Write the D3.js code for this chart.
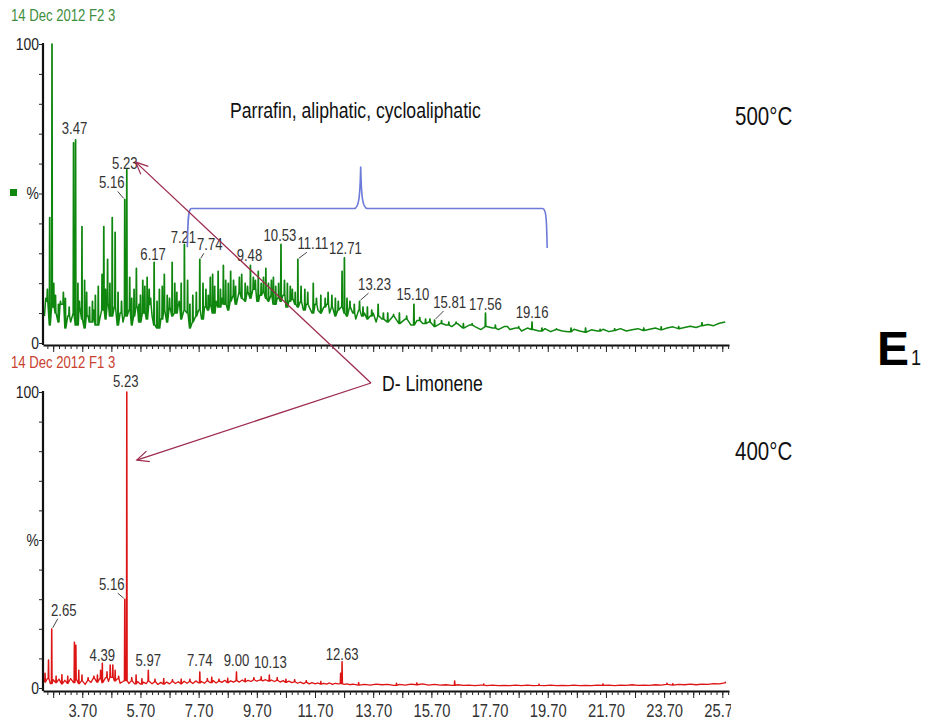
<!DOCTYPE html>
<html><head><meta charset="utf-8">
<script src="https://cdn.jsdelivr.net/npm/d3@7"></script>
<style>
body{margin:0;background:#fff}
svg{display:block}
text{font-family:"Liberation Sans",Arial,sans-serif}
</style>
</head><body><svg id="c" width="941" height="720"></svg>
<script>
// ---------- DATA ----------
const timeTickLabels = ["3.70","5.70","7.70","9.70","11.70","13.70","15.70","17.70","19.70","21.70","23.70","25.70"];
const yTickValues = [100, 50, 0];
const yTickTexts = ["100", "%", "0"];

// 500°C run (F2): peaks [retention time (min), %]
const topPeaks = [
 [2.45,15],[2.50,18],[2.58,42],[2.66,100],[2.72,20],[2.78,16],[2.88,13],[2.95,14],[3.05,17],[3.12,15],
 [3.25,12],[3.40,67],[3.47,68],[3.55,20],[3.60,14],[3.69,39],[3.78,21],[3.85,17],[3.95,12],[4.05,14],
 [4.15,16],[4.25,19],[4.38,23],[4.44,39],[4.50,18],[4.57,28],[4.65,20],[4.73,42],[4.83,37],[4.93,17],
 [5.05,14],[5.16,48],[5.23,58],[5.33,22],[5.40,15],[5.48,18],[5.56,25],[5.65,13],[5.70,16],[5.78,21],
 [5.85,19],[5.93,22],[6.00,18],[6.05,15],[6.17,27],[6.27,14],[6.35,18],[6.45,19],[6.52,23],[6.62,16],
 [6.70,15],[6.79,27],[6.88,20],[6.95,17],[7.03,14],[7.10,20],[7.21,33],[7.32,21],[7.40,13],[7.50,16],
 [7.62,17],[7.74,28],[7.85,20],[7.95,18],[8.03,16],[8.10,22],[8.18,23],[8.25,19],[8.37,24],[8.45,18],
 [8.55,26],[8.63,21],[8.72,20],[8.80,24],[8.90,21],[8.97,19],[9.10,22],[9.18,23],[9.30,20],[9.38,19],
 [9.48,26],[9.58,22],[9.65,21],[9.75,24],[9.85,20],[9.93,22],[10.01,25],[10.10,20],[10.20,21],[10.27,22],
 [10.35,19],[10.45,20],[10.53,33],[10.65,21],[10.75,20],[10.85,19],[10.92,18],[11.02,17],[11.11,28],[11.22,19],
 [11.35,18],[11.45,17],[11.64,20],[11.75,15],[11.90,16],[12.05,15],[12.15,17],[12.28,16],[12.40,15],[12.50,14],
 [12.63,24],[12.71,28.5],[12.80,15],[12.90,14],[13.05,13],[13.23,14],[13.35,12],[13.50,12],[13.65,11],[13.87,13],
 [14.05,10],[14.20,10],[14.40,9.5],[14.60,10],[14.85,9],[15.10,13],[15.30,8.5],[15.50,8],[15.65,8],[15.81,7.7],
 [16.05,7.5],[16.30,7],[16.55,7],[16.80,6.5],[17.10,6.5],[17.56,10],[17.90,6],[18.30,5.5],[18.70,5.5],[19.16,7],
 [19.50,5],[20.00,4.8],[20.50,5],[21.00,5],[21.50,4.6],[22.00,4.8],[23.00,5],[23.60,5.4],[24.20,5.5],[25.00,6.8]
];
// baseline / noise of the 500°C trace, every 0.1 min from 2.4 min ...
const topBaseA = [9,14,6,12,10,7,13,5,9,7, 10,6,12,8,5,9,7,11,6,8, 11,8,13,9,12,6,10,7,9,11,
 6,9,12,7,10,8,13,9,6,5, 8,11,7,12,9,10,13,8,11,10, 5,7,9,11,8,12,11,13,10,14,
 12,15,13,11,14,16,13,17,15,14, 17,15,18,14,16,17,15,14,16,13, 15,14,16,12,14,15,13,12,14,11,
 13,12,10,13,11,10,12,13,10,12, 9,11,12,10,9,12,10,8,11,9, 10,8,9,10,7,9];
// ... and every 0.2 min from 14.0 min
const topBaseB = [8,7,9,6.5,8,6,7.5,6.5,7,5.5, 6.5,6,5.5,6.5,5,6,5.5,4.5,5.5,5, 4.5,5.5,4.5,5,4,5,4.5,4,4.8,3.8,
 4.5,4,3.8,4.6,4,3.6,4.4,4,4.6,3.8, 4.2,4.8,4,4.4,4.8,4.2,4.6,5,4.4,5, 5.4,4.8,5.2,5.6,5.2,5.8,6.2,5.8,6.6,7];

// 400°C run (F1)
const bottomPeaks = [
 [2.42,5],[2.54,9.5],[2.65,20],[2.80,4],[3.00,4.5],[3.20,4],[3.43,15.5],[3.48,14.5],[3.58,6],[3.69,4.4],
 [3.90,3.5],[4.10,4],[4.22,4.4],[4.33,6],[4.39,8.4],[4.55,5.5],[4.66,7.8],[4.75,7.8],[4.83,6],[4.95,4],
 [5.16,30],[5.23,100],[5.40,3.5],[5.55,4.4],[5.75,3.2],[5.97,6],[6.20,3],[6.50,3.2],[6.80,2.8],[7.10,3],
 [7.40,3],[7.74,5.4],[8.00,3.2],[8.15,3.7],[8.40,3],[8.70,3.3],[9.00,5.4],[9.30,3.2],[9.60,3.5],[9.85,3.8],
 [10.13,4.4],[10.40,3.5],[10.70,3],[11.00,2.8],[11.40,2.5],[11.90,2.2],[12.58,5],[12.63,8.9],[13.20,1.8],[14.50,1.6],
 [15.20,1.7],[16.50,2.4],[17.50,1.4],[19.40,1.3],[21.60,1.4],[23.80,1.6],[24.00,1.5],[25.80,2.0]
];
const bottomBaseA = [2,3.2,1.5,2.8,1.8,3,1.4,2.6,1.6,3.2, 1.8,2.9,1.5,2.4,1.2,2.6,1.9,3.4,2,3.2, 1.8,3.5,2.2,3.6,2.4,3.1,
 1.6,2.2,2.5,1.5,2.4,1.4,2.2,1.3,2.0,1.5, 2.3,1.4,2.1,1.2,1.9,1.3,2.0,1.4,2.2,1.5,
 2.1,1.4,2.3,1.6,2.2,1.5,2.4,1.7,2.2,1.6, 2.4,1.8,2.5,1.7,2.3,1.9,2.6,1.8,2.4,2.0,
 2.5,2.0,2.7,2.1,2.6,2.2,2.8,2.3,2.7,2.4, 2.8,2.3,2.7,2.2,2.6,2.0,2.5,1.9,2.3,1.8,
 2.1,1.6,2.0,1.5,1.9,1.4,1.8,1.4,1.7,1.3, 1.6,1.3,1.7,1.2,1.6,1.4,1.5,1.2,1.4,1.1];
const bottomBaseB = [1.3,1.0,1.2,1.0,1.3,1.1,1.2,0.9,1.2,1.0, 1.3,1.1,1.4,1.0,1.2,1.0,1.1,0.9,1.1,0.9,
 1.0,0.8,1.0,0.8,1.0,0.8,0.9,0.8,1.0,0.8, 1.0,0.8,0.9,0.8,1.0,0.8,0.9,0.8,1.0,0.8,
 0.9,0.8,1.0,0.9,1.0,0.8,1.0,0.9,1.1,0.9, 1.0,0.9,1.1,1.0,1.2,1.0,1.2,1.1,1.3,1.1, 1.3,1.2,1.5,1.4,1.7];

const topLabels = ["3.47","5.23","5.16","6.17","7.21","7.74","9.48","10.53","11.11","12.71","13.23","15.10","15.81","17.56","19.16"];
const bottomLabels = ["5.23","5.16","2.65","4.39","5.97","7.74","9.00","10.13","12.63"];

// ---------- LAYOUT / STYLE ----------
const NARROW = 0.82;
const labelOffsets = { // [dx, dy, leader?] relative to the peak apex
 top: {"3.47":[-1,-6],"5.23":[-2,-1],"5.16":[-13,-11,1],"6.17":[-1,-2],"7.21":[-1,-1],"7.74":[10,-9,1],
  "9.48":[-1,-4],"10.53":[-1,-3],"11.11":[15,-10,1],"12.71":[1,-4],"13.23":[15,-11,1],"15.10":[-1,-4],
  "15.81":[15,-12,1],"17.56":[0,-3],"19.16":[0,-4]},
 bottom: {"5.23":[-1,-5],"5.16":[-13,-9,1],"2.65":[12,-13,1],"4.39":[0,-2],"5.97":[0,-4],"7.74":[0,-6],
  "9.00":[0,-6],"10.13":[1,-7],"12.63":[0,-2]}
};

const svg = d3.select("#c");
svg.append("rect").attr("width",941).attr("height",720).attr("fill","#fff");

const x = d3.scaleLinear().domain([2.35, 25.93]).range([43, 729]);
const yTop = d3.scaleLinear().domain([0,100]).range([343,44]);
const yBot = d3.scaleLinear().domain([0,100]).range([688,392]);

function narrowText(parent, px, py, str, size, fill, anchor){
  return parent.append("text").attr("transform",`translate(${px},${py}) scale(${NARROW},1)`)
    .attr("font-size",size).attr("fill",fill).attr("text-anchor",anchor||"start").text(str);
}

function baselineSeries(a, b){
  const pts = a.map((v,i)=>[2.4 + i*0.1, v]);
  const tB = 2.4 + a.length*0.1;
  b.forEach((v,i)=>pts.push([tB + i*0.2, v]));
  return pts;
}
function buildTrace(a, b, peaks){
  const base = baselineSeries(a,b);
  const nearest = t => base.reduce((p,c)=>Math.abs(c[0]-t)<Math.abs(p[0]-t)?c:p)[1];
  const pts = base.slice();
  peaks.forEach(([t,v])=>{
    const bv = nearest(t);
    pts.push([t-0.014,bv],[t-0.004,v],[t+0.004,v],[t+0.014,bv]);
  });
  pts.sort((p,q)=>p[0]-q[0]);
  return pts;
}

function panel(y, axisY, color, sw, peaks, a, b, withLabels, offs){
  const g = svg.append("g");
  const line = d3.line().x(d=>x(d[0])).y(d=>y(d[1]));
  g.append("path").datum(buildTrace(a,b,peaks)).attr("d",line)
    .attr("fill","none").attr("stroke",color).attr("stroke-width",sw).attr("stroke-linejoin","round");

  // x axis
  const minor = d3.range(-6, 112).map(k=>+(3.70+k*0.2).toFixed(2)).filter(t=>t>=2.36&&t<=25.92);
  const major = d3.range(-1, 23).map(k=>+(3.70+k*1).toFixed(2)).filter(t=>t>=2.36&&t<=25.92);
  const ax1 = g.append("g").attr("transform",`translate(0,${axisY})`)
    .call(d3.axisBottom(x).tickValues(minor).tickSize(4).tickSizeOuter(0).tickFormat(""));
  ax1.select(".domain").attr("stroke","#111").attr("stroke-width",2);
  ax1.selectAll(".tick line").attr("stroke","#222").attr("stroke-width",1);
  const ax2 = g.append("g").attr("transform",`translate(0,${axisY})`)
    .call(d3.axisBottom(x).tickValues(major).tickSize(7).tickSizeOuter(0)
      .tickFormat(d=> withLabels ? (timeTickLabels.includes(d.toFixed(2)) ? d.toFixed(2) : "") : ""));
  ax2.select(".domain").remove();
  ax2.selectAll(".tick line").attr("stroke","#222").attr("stroke-width",1);
  ax2.selectAll("text").attr("font-size",18).attr("fill","#333").attr("dy","0.9em")
    .attr("transform",`scale(${NARROW},1)`).attr("font-family",'"Liberation Sans",Arial,sans-serif');

  // y axis
  const ay = g.append("g").attr("transform","translate(43,0)")
    .call(d3.axisLeft(y).tickValues(d3.range(0,101,10)).tickSize(4).tickSizeOuter(0)
      .tickFormat(d=>{const i=yTickValues.indexOf(d);return i<0?"":yTickTexts[i];}));
  ay.select(".domain").attr("stroke","#111").attr("stroke-width",2.2)
    .attr("d",`M0,${y(100)-1}V${axisY}`);
  ay.selectAll(".tick line").attr("stroke","#222");
  ay.selectAll("text").attr("font-size",17).attr("fill","#222").attr("x",-5)
    .attr("transform",`scale(${NARROW},1)`).attr("font-family",'"Liberation Sans",Arial,sans-serif');

  // peak labels
  const peakMap = new Map(peaks.map(p=>[p[0].toFixed(2),p[1]]));
  Object.keys(offs).forEach(lab=>{
    const t = +lab, v = peakMap.get(lab);
    const px = x(t), py = y(v);
    const [dx,dy,leader] = offs[lab];
    narrowText(g, px+dx, py+dy, lab, 16, "#333", "middle");
    if(leader){
      const lx = px+dx + (dx<0?6:-6), ly = py+dy+3;
      g.append("line").attr("x1",lx).attr("y1",ly).attr("x2",px-(dx<0?1:-1)).attr("y2",py-1)
        .attr("stroke","#444").attr("stroke-width",1);
    }
  });
  return g;
}

panel(yTop, 345, "#0f870f", 1.5, topPeaks, topBaseA, topBaseB, false, labelOffsets.top);
panel(yBot, 691, "#dc1414", 1.3, bottomPeaks, bottomBaseA, bottomBaseB, true, labelOffsets.bottom);

// the last tick label is cut off at the plot edge, as in the original
svg.append("rect").attr("x",731).attr("y",696).attr("width",40).attr("height",24).attr("fill","#fff");

// headers
narrowText(svg, 11, 21, "14 Dec 2012 F2 3", 16, "#3e8e3e");
narrowText(svg, 11, 368, "14 Dec 2012 F1 3", 16, "#c8402e");
svg.append("rect").attr("x",10).attr("y",189).attr("width",7).attr("height",7).attr("fill","#0f870f");

// brace (in data coordinates of the top panel)
const braceD = `M${x(7.31)},${yTop(32)} C${x(7.33)},${yTop(40)} ${x(7.33)},${yTop(45)} ${x(7.45)},${yTop(45)}
 L${x(13.05)},${yTop(45)} C${x(13.22)},${yTop(45)} ${x(13.25)},${yTop(50)} ${x(13.27)},${yTop(59)}
 C${x(13.29)},${yTop(50)} ${x(13.32)},${yTop(45)} ${x(13.5)},${yTop(45)}
 L${x(19.52)},${yTop(45)} C${x(19.64)},${yTop(45)} ${x(19.66)},${yTop(42)} ${x(19.68)},${yTop(31.8)}`;
svg.append("path").attr("d",braceD).attr("fill","none").attr("stroke","#6c7ad8").attr("stroke-width",1.6);

// arrows
const arrowColor = "#9c2b4d";
svg.append("defs").append("marker").attr("id","ah").attr("markerUnits","userSpaceOnUse")
  .attr("markerWidth",16).attr("markerHeight",16).attr("refX",13).attr("refY",6).attr("orient","auto")
  .append("path").attr("d","M1,0.5 L13,6 L1,11.5").attr("fill","none").attr("stroke",arrowColor).attr("stroke-width",1.2);
const origin = [371,383];
svg.append("line").attr("x1",origin[0]).attr("y1",origin[1]).attr("x2",x(5.23)+9).attr("y2",yTop(60.5))
  .attr("stroke",arrowColor).attr("stroke-width",1.3).attr("marker-end","url(#ah)");
svg.append("line").attr("x1",origin[0]).attr("y1",origin[1]).attr("x2",x(5.23)+10).attr("y2",yBot(77))
  .attr("stroke",arrowColor).attr("stroke-width",1.3).attr("marker-end","url(#ah)");

// annotations
narrowText(svg, 230, 118, "Parrafin, aliphatic, cycloaliphatic", 21.5, "#111");
narrowText(svg, 382, 391, "D- Limonene", 21.5, "#111");
narrowText(svg, 735, 125, "500°C", 25, "#111");
narrowText(svg, 735, 460, "400°C", 25, "#111");
svg.append("text").attr("x",877).attr("y",365).attr("font-size",48).attr("font-weight","bold").attr("fill","#000").text("E");
narrowText(svg, 911, 365, "1", 22, "#111");
</script>
</body></html>
